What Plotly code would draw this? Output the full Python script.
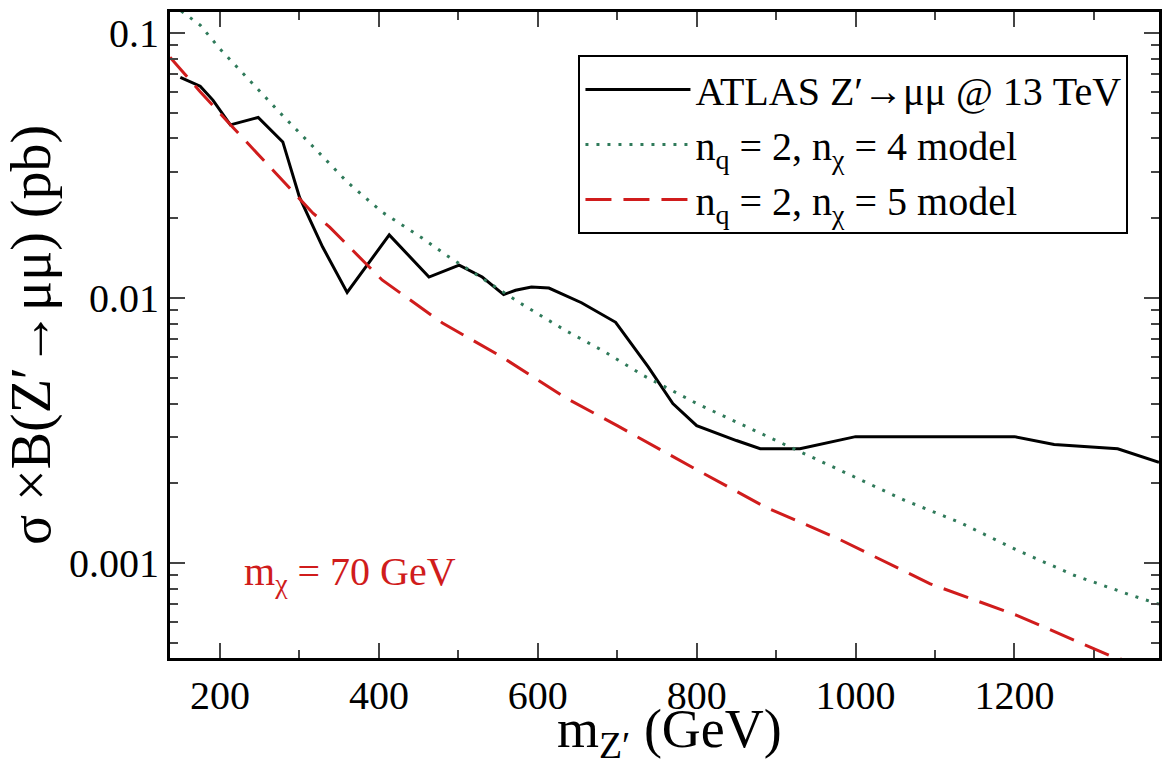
import plotly.graph_objects as go

# ATLAS Z' -> mumu @ 13 TeV limit
atlas_m = [150, 175, 191, 213, 248, 279, 300, 329, 360, 413, 463, 501, 530, 557, 572, 592, 614, 655, 698, 739,
           770, 800, 850, 880, 930, 1000, 1100, 1200, 1250, 1330, 1382]
atlas_s = [0.068, 0.063, 0.0558, 0.045, 0.048, 0.0388, 0.024, 0.0156, 0.0105, 0.0173, 0.0120, 0.0133, 0.0120,
           0.0103, 0.0107, 0.0110, 0.0109, 0.0096, 0.0081, 0.0055, 0.0040, 0.0033, 0.0029, 0.0027, 0.0027,
           0.0030, 0.0030, 0.0030, 0.0028, 0.0027, 0.0024]

# n_q = 2, n_chi = 4 model
m4 = [140, 175, 200, 240, 279, 320, 360, 404, 455, 485, 530, 582, 633, 683, 733, 800, 900, 1000, 1061, 1132,
      1203, 1275, 1345, 1382]
s4 = [0.128, 0.107, 0.087, 0.0647, 0.0487, 0.0365, 0.0274, 0.0211, 0.0168, 0.0145, 0.0119, 0.0094, 0.0076,
      0.0063, 0.0051, 0.0040, 0.0029, 0.0021, 0.00173, 0.00142, 0.00112, 0.00090, 0.00076, 0.00070]

# n_q = 2, n_chi = 5 model
m5 = [137, 175, 216, 266, 317, 338, 404, 480, 555, 635, 700, 800, 886, 977, 1094, 1203, 1320, 1382]
s5 = [0.081, 0.060, 0.0441, 0.0304, 0.0209, 0.0185, 0.0117, 0.00805, 0.00599, 0.0042, 0.0033, 0.00225,
      0.00163, 0.00124, 0.000835, 0.000635, 0.000448, 0.00039]

x_ticks = [200, 400, 600, 800, 1000, 1200]
y_ticks = [0.001, 0.01, 0.1]
y_ticktext = ["0.001", "0.01", "0.1"]

FONT = "Liberation Serif"
RED = "#d01c1c"
GREEN = "#2f7a5a"

fig = go.Figure()
fig.add_trace(go.Scatter(x=atlas_m, y=atlas_s, mode="lines", name="ATLAS Z′→μμ @ 13 TeV",
                         line=dict(color="black", width=3)))
fig.add_trace(go.Scatter(x=m4, y=s4, mode="lines", name="n<sub>q</sub> = 2, n<sub>χ</sub> = 4 model",
                         line=dict(color=GREEN, width=3, dash="3px,8px")))
fig.add_trace(go.Scatter(x=m5, y=s5, mode="lines", name="n<sub>q</sub> = 2, n<sub>χ</sub> = 5 model",
                         line=dict(color=RED, width=3, dash="26px,12px")))

fig.add_annotation(x=364, y=-3.04, xref="x", yref="y", text="m<sub>χ</sub> = 70 GeV", showarrow=False,
                   font=dict(family=FONT, size=40, color=RED))

# x-axis title placed just below the tick labels
fig.add_annotation(x=0.505, y=-0.061, xref="paper", yref="paper", xanchor="center", yanchor="top",
                   text="m<sub>Z′</sub> (GeV)", showarrow=False,
                   font=dict(family=FONT, size=54, color="black"))

fig.update_layout(
    width=1163, height=763,
    margin=dict(l=170, r=1, t=12, b=105),
    plot_bgcolor="white", paper_bgcolor="white",
    font=dict(family=FONT, size=40, color="black"),
    showlegend=True,
    legend=dict(x=0.413, y=0.9334, xanchor="left", yanchor="top", bgcolor="white",
                bordercolor="black", borderwidth=2, font=dict(family=FONT, size=40),
                tracegroupgap=0, itemwidth=105),
    xaxis=dict(range=[137, 1382], tickvals=x_ticks, ticks="inside", ticklen=15, tickwidth=2,
               showline=True, linecolor="black", linewidth=3, mirror="allticks", showgrid=False,
               zeroline=False, tickfont=dict(family=FONT, size=40),
               minor=dict(ticks="inside", ticklen=8, tickwidth=2, dtick=100, showgrid=False)),
    yaxis=dict(type="log", range=[-3.358, -0.921], tickvals=y_ticks, ticktext=y_ticktext,
               ticks="inside", ticklen=15, tickwidth=2, showline=True, linecolor="black", linewidth=3,
               mirror="allticks", showgrid=False, zeroline=False, tickfont=dict(family=FONT, size=40),
               minor=dict(ticks="inside", ticklen=8, tickwidth=2, dtick="D1", showgrid=False),
               title=dict(text="σ ×B(Z′→μμ) (pb)", font=dict(family=FONT, size=56), standoff=4)),
)

fig.write_html("out.html")
